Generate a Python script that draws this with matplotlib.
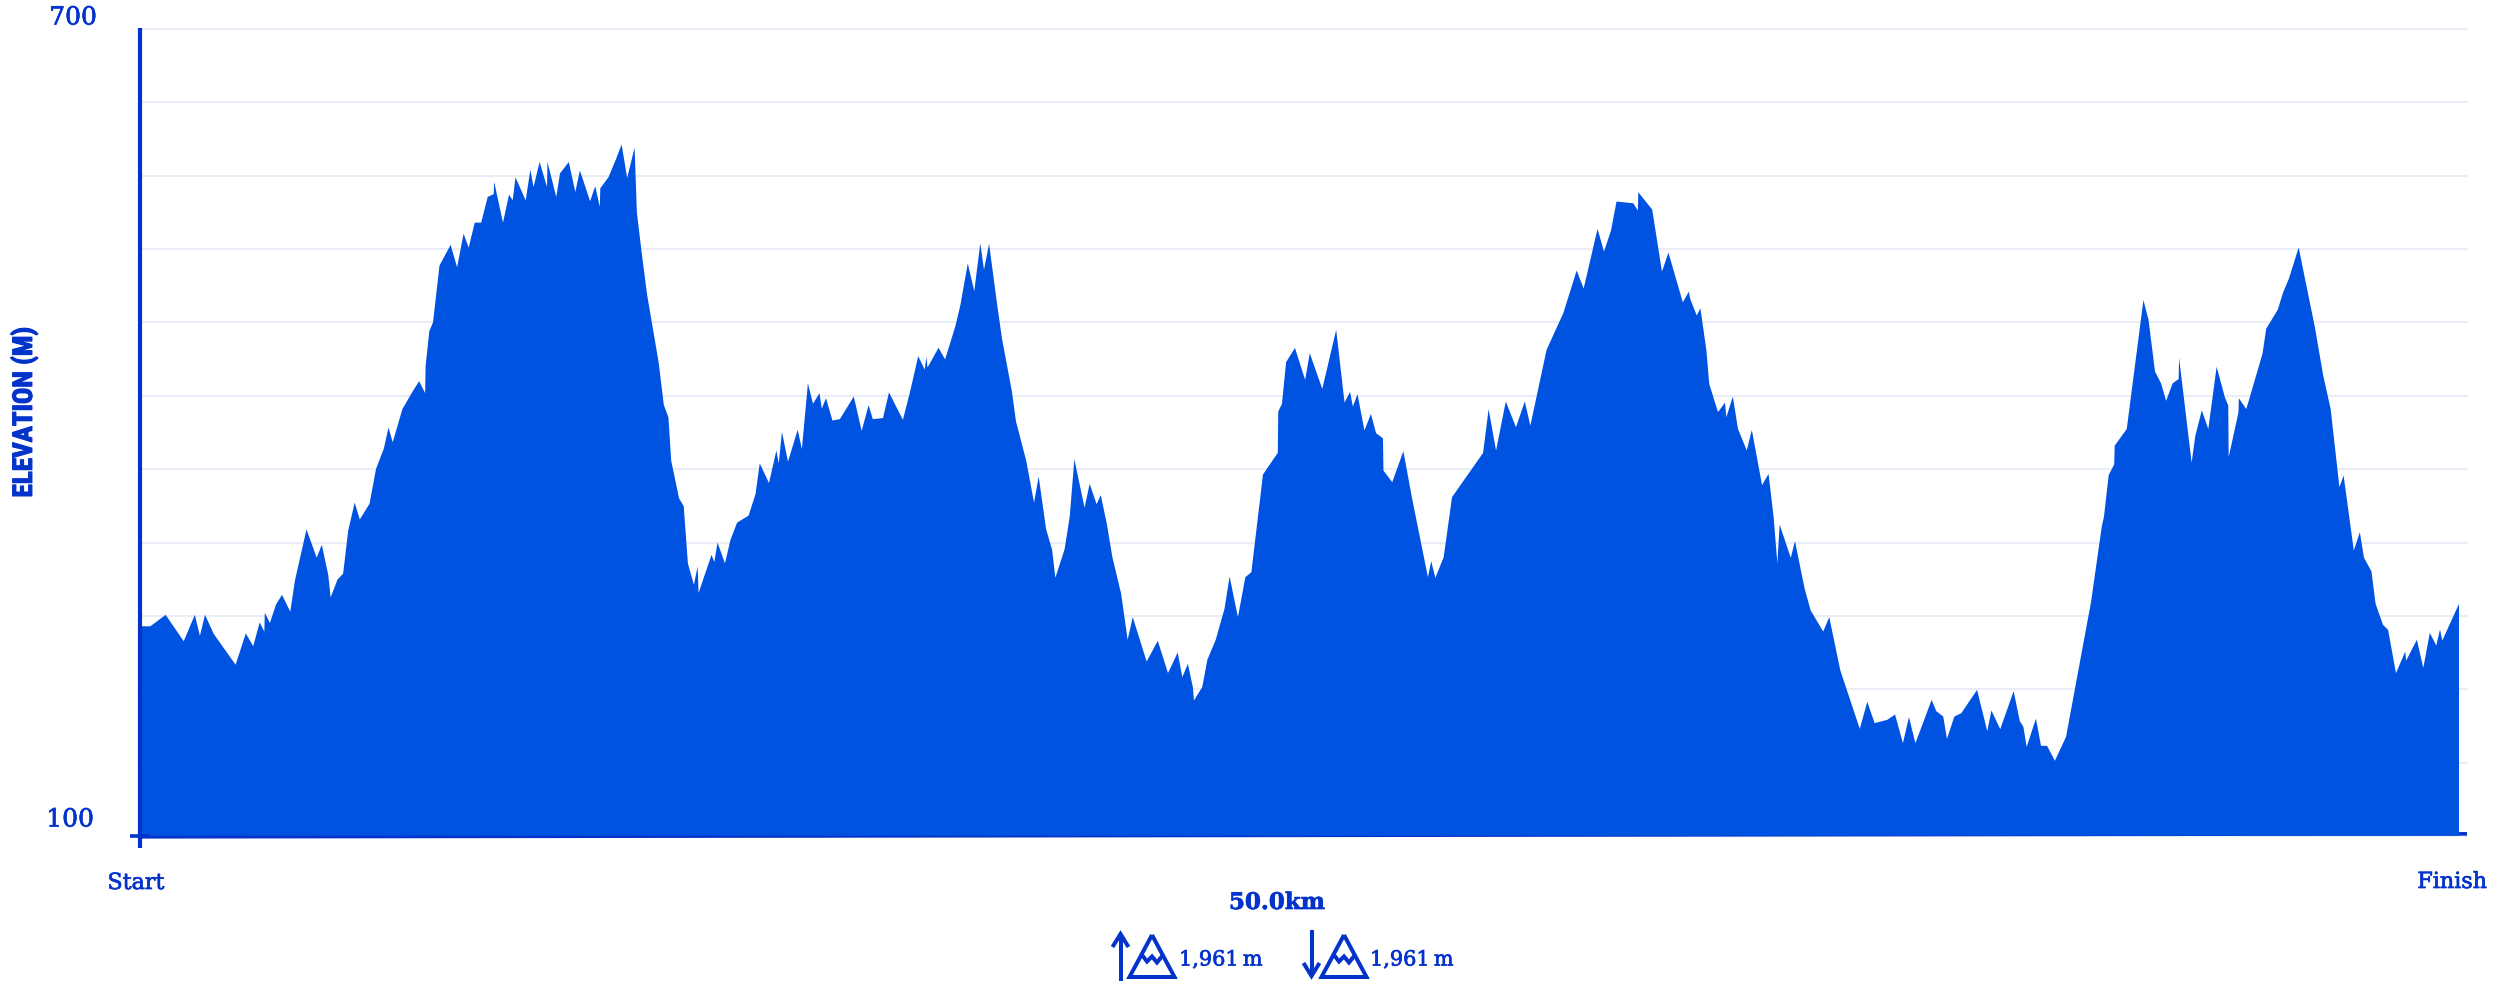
import numpy as np
import matplotlib
matplotlib.use('Agg')
import matplotlib.pyplot as plt
import matplotlib.patheffects as pe
from matplotlib import font_manager
from matplotlib.lines import Line2D

W, H = 2504, 981
FILL = '#0052e0'
DARK = '#0433cb'
GRID = '#e9edf7'
SERIF = 'DejaVu Serif'

# distance along the course (km)
km = [
    0.00, 0.18, 0.51, 0.90, 1.14, 1.25, 1.36, 1.55, 2.02, 2.24, 2.40, 2.54, 2.64, 2.65, 2.76, 2.89,
    3.02, 3.20, 3.30, 3.55, 3.77, 3.88, 4.02, 4.07, 4.22, 4.34, 4.45, 4.59, 4.70, 4.91, 5.05, 5.22,
    5.32, 5.41, 5.62, 5.83, 5.98, 6.11, 6.12, 6.20, 6.28, 6.42, 6.66, 6.80, 6.94, 7.05, 7.18, 7.32,
    7.46, 7.59, 7.60, 7.79, 7.92, 8.00, 8.06, 8.28, 8.38, 8.45, 8.58, 8.74, 8.75, 8.94, 9.02, 9.21,
    9.35, 9.45, 9.67, 9.78, 9.88, 9.89, 10.07, 10.23, 10.35, 10.47, 10.63, 10.68, 10.79, 10.90, 11.15, 11.26,
    11.36, 11.42, 11.59, 11.69, 11.78, 11.91, 11.99, 12.01, 12.29, 12.35, 12.42, 12.58, 12.70, 12.84, 13.09, 13.24,
    13.33, 13.53, 13.69, 13.74, 13.81, 13.94, 14.15, 14.24, 14.37, 14.48, 14.62, 14.67, 14.76, 14.90, 15.06, 15.36,
    15.53, 15.68, 15.77, 15.99, 16.12, 16.42, 16.57, 16.75, 16.89, 16.93, 16.95, 17.19, 17.33, 17.55, 17.66, 17.82,
    17.96, 18.09, 18.17, 18.28, 18.45, 18.56, 18.77, 18.86, 19.08, 19.25, 19.35, 19.51, 19.64, 19.71, 19.91, 20.02,
    20.12, 20.34, 20.45, 20.60, 20.69, 20.82, 20.94, 21.13, 21.27, 21.38, 21.68, 21.92, 22.14, 22.35, 22.45, 22.57,
    22.68, 22.70, 22.88, 22.99, 23.17, 23.36, 23.47, 23.65, 23.81, 23.94, 24.19, 24.51, 24.52, 24.60, 24.69, 24.88,
    25.10, 25.20, 25.47, 25.77, 25.95, 26.07, 26.13, 26.23, 26.38, 26.52, 26.63, 26.72, 26.78, 26.79, 26.98, 27.22,
    27.41, 27.75, 27.82, 27.91, 28.09, 28.27, 28.94, 29.06, 29.22, 29.43, 29.65, 29.84, 29.96, 30.31, 30.67, 30.96,
    31.11, 31.41, 31.55, 31.70, 31.82, 32.18, 32.28, 32.29, 32.59, 32.80, 32.94, 33.25, 33.38, 33.41, 33.55, 33.63,
    33.76, 33.82,
    34.01, 34.16, 34.19, 34.33, 34.44, 34.63, 34.74, 34.96, 35.10, 35.21, 35.29, 35.34, 35.58, 35.67, 35.88, 36.01,
    36.28, 36.41, 36.65, 37.07, 37.23, 37.39, 37.66, 37.83, 38.00, 38.13, 38.27, 38.62, 38.72, 38.87, 38.95, 39.11,
    39.26, 39.60, 39.82, 39.91, 40.10, 40.39, 40.52, 40.60, 40.67, 40.87, 40.98, 41.11, 41.28, 41.52, 42.06, 42.29,
    42.34, 42.44, 42.56, 42.57, 42.83, 43.19, 43.30, 43.44, 43.57, 43.68, 43.82, 43.95, 43.96, 44.23, 44.31, 44.45,
    44.59, 44.77, 44.95, 45.02, 45.03, 45.24, 45.25, 45.41, 45.76, 45.84, 46.09, 46.20, 46.33, 46.54, 46.89, 47.07,
    47.23, 47.42, 47.51, 47.73, 47.86, 47.95, 48.11, 48.20, 48.36, 48.47, 48.64, 48.84, 48.86, 49.09, 49.23, 49.37,
    49.51, 49.59, 49.64, 50.00,
]

# elevation (m)
elevation = [
    256.3, 256.3, 264.8, 245.2, 264.8, 249.2, 264.8, 250.5, 227.7, 251.0, 241.5, 259.2, 252.3, 266.4, 258.7, 272.3,
    279.7, 267.2, 290.3, 328.3, 307.3, 316.9, 294.3, 277.8, 291.1, 295.4, 327.5, 348.2, 335.7, 347.4, 373.2, 388.6,
    404.0, 393.1, 417.8, 430.3, 438.5, 429.7, 449.6, 475.7, 482.3, 524.5, 539.9, 523.2, 548.2, 537.8, 556.4, 556.4,
    575.5, 577.6, 586.7, 556.4, 577.1, 573.1, 590.1, 572.9, 595.7, 582.9, 601.5, 582.9, 601.5, 575.5, 593.0, 601.5,
    579.2, 595.2, 572.3, 583.5, 568.1, 581.9, 590.4, 603.7, 614.5, 589.6, 612.2, 563.8, 532.0, 502.8, 452.3, 421.0,
    411.7, 379.3, 351.4, 345.6, 303.1, 287.1, 300.9, 281.0, 309.4, 304.1, 318.5, 303.1, 320.6, 333.3, 338.6, 354.6,
    377.4, 362.8, 387.0, 377.4, 400.8, 378.7, 402.4, 388.0, 436.9, 421.7, 429.7, 418.0, 426.0, 409.3, 410.3, 427.1,
    401.6, 420.7, 410.3, 411.1, 430.2, 409.8, 430.0, 457.1, 447.2, 456.5, 448.6, 463.4, 454.7, 479.1, 495.0, 526.1,
    505.4, 541.0, 521.3, 540.7, 496.4, 469.8, 431.3, 408.7, 379.5, 348.2, 367.6, 328.5, 313.1, 292.4, 313.7, 337.8,
    380.5, 344.4, 362.2, 347.1, 353.8, 332.5, 307.7, 280.4, 246.2, 263.1, 230.1, 245.5, 221.5, 236.8, 218.5, 228.4,
    210.5, 201.1, 211.1, 231.4, 246.2, 269.3, 293.3, 263.1, 292.8, 296.5, 369.1, 385.3, 416.0, 421.7, 452.7, 463.3,
    439.5, 459.3, 432.8, 476.7, 422.7, 430.6, 419.7, 428.9, 401.9, 414.2, 399.9, 397.6, 395.9, 372.1, 363.4, 386.5,
    351.0, 292.8, 304.7, 292.3, 307.7, 352.3, 385.2, 417.7, 386.9, 423.4, 404.3, 423.4, 405.5, 461.8, 489.0, 520.8,
    507.4, 551.7, 534.9, 550.5, 572.1, 570.8, 565.4, 579.0, 566.1, 520.0, 534.1, 497.2, 505.1, 499.7, 487.4, 492.6,
    461.3, 436.5,
    415.5, 422.6, 411.7, 427.1, 403.1, 387.0, 402.3, 361.2, 369.6, 337.4, 303.2, 331.9, 307.2, 319.6, 284.1, 268.0,
    252.4, 263.1, 223.4, 180.0, 200.1, 184.3, 186.7, 190.7, 169.4, 188.7, 169.4, 201.6, 193.2, 189.2, 172.6, 189.2,
    191.7, 209.0, 178.3, 193.7, 179.8, 208.1, 186.0, 181.5, 166.6, 187.6, 167.4, 167.4, 156.3, 174.1, 274.4, 330.2,
    338.2, 368.7, 376.7, 390.5, 403.0, 498.8, 484.2, 445.7, 436.9, 423.9, 436.9, 440.1, 455.8, 378.0, 397.9, 416.8,
    403.0, 449.2, 426.3, 420.5, 382.0, 415.2, 425.8, 417.8, 459.0, 477.6, 491.7, 504.1, 514.8, 537.9, 478.6, 442.7,
    417.9, 359.7, 368.4, 312.6, 326.2, 307.2, 297.2, 273.0, 257.4, 253.6, 221.4, 237.5, 230.8, 246.2, 225.4, 251.4,
    242.0, 253.9, 245.7, 273.0,
]

y_min, y_max = 100, 700
n_grid = 12
x_labels = ['Start', 'Finish']
total_label = '50.0km'
gain_label = '1,961\u2009m'
loss_label = '1,961\u2009m'
y_title = 'ELEVATION (M)'


def px(x, y):
    # figure fractions from top-left pixel position
    return x / W, 1 - y / H


def icon_line(fig, xs, ys, lw=4.0):
    line = Line2D([x / W for x in xs], [1 - y / H for y in ys], transform=fig.transFigure,
                  color=DARK, lw=lw * 0.72, solid_joinstyle='miter', solid_capstyle='butt')
    fig.add_artist(line)


def mountain(fig, xc):
    # outline then the snow line
    icon_line(fig, [xc, xc - 22.5, xc + 22.5, xc], [935, 977, 977, 935])
    icon_line(fig, [xc - 10, xc - 5, xc, xc + 5, xc + 11], [955, 961.5, 956.5, 962.5, 955])


plt.rcParams['font.family'] = [SERIF, 'DejaVu Sans']
fig = plt.figure(figsize=(W / 100, H / 100), dpi=100, facecolor='white')

# axes run from the y axis to the right end of the grid lines
ax_left, ax_right, ax_top, ax_bottom = 139, 2467, 29, 836
ax = fig.add_axes([ax_left / W, 1 - ax_bottom / H, (ax_right - ax_left) / W, (ax_bottom - ax_top) / H])
km_per_px = 50 / 2317
ax.set_xlim((ax_left - 141.5) * km_per_px, (ax_right - 141.5) * km_per_px)
ax.set_ylim(y_min, y_max)
for s in ax.spines.values():
    s.set_visible(False)
ax.set_xticks([])
ax.set_yticks(np.linspace(y_min, y_max, n_grid))
ax.set_yticklabels([])
ax.tick_params(axis='y', length=0)
ax.grid(axis='y', color=GRID, lw=1.5, clip_on=False)
ax.set_axisbelow(True)

ax.plot([ax.get_xlim()[0], ax.get_xlim()[1]], [99.4, 101.6], color=DARK, lw=2.6, zorder=2,
        clip_on=False, solid_capstyle='butt')
ax.fill_between(km, y_min + 0.6, elevation, color=FILL, lw=0, zorder=3)

# y axis with the little cross at the origin
fig.add_artist(Line2D([139.7 / W, 139.7 / W], [1 - 28 / H, 1 - 848 / H], color=DARK, lw=3.0,
                      solid_capstyle='butt'))
fig.add_artist(Line2D([130 / W, 150 / W], [1 - 836 / H, 1 - 836 / H], color=DARK, lw=2.6,
                      solid_capstyle='butt'))

heavy = [pe.withStroke(linewidth=0.5, foreground=DARK)]
txt = dict(color=DARK, family=[SERIF, 'DejaVu Sans'], path_effects=heavy)
fig.text(*px(73, 18), '700', ha='center', va='center', fontsize=18, **txt)
fig.text(*px(70, 820), '100', ha='center', va='center', fontsize=18, **txt)
fig.text(*px(136, 883), x_labels[0], ha='center', va='center', fontsize=16, **txt)
fig.text(*px(2452, 882), x_labels[1], ha='center', va='center', fontsize=16, **txt)
fig.text(*px(1277, 903), total_label, ha='center', va='center', fontsize=16.5, fontweight='bold', **txt)
fig.text(*px(1221, 960), gain_label, ha='center', va='center', fontsize=15, **txt)
fig.text(*px(1412, 960), loss_label, ha='center', va='center', fontsize=15, **txt)

# narrowest installed family, sized so the label keeps its length
names = {f.name for f in font_manager.fontManager.ttflist}
title_font = 'Liberation Sans'
for name in ['Roboto Condensed', 'Liberation Sans Narrow', 'Open Sans Condensed']:
    if name in names:
        title_font = name
        break
ylab = fig.text(*px(24, 412), y_title, rotation=90, ha='center', va='center', fontsize=20, fontweight='bold',
                color=DARK, family=title_font, path_effects=[pe.withStroke(linewidth=0.8, foreground=DARK)])
ext = ylab.get_window_extent(fig.canvas.get_renderer())
ylab.set_fontsize(20 * 171 / ext.height)

# up arrow and mountain
icon_line(fig, [1120.5, 1120.5], [981, 934])
icon_line(fig, [1112.5, 1120.5, 1128.5], [947, 934, 947])
mountain(fig, 1152)
# down arrow and mountain
icon_line(fig, [1311.5, 1311.5], [930, 976])
icon_line(fig, [1303.5, 1311.5, 1319.5], [963, 976, 963])
mountain(fig, 1344)

fig.savefig('out.png', dpi=100, facecolor='white')
